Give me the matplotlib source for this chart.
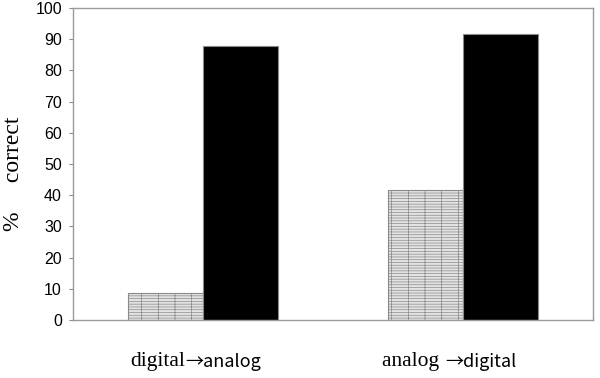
import numpy as np
import matplotlib
matplotlib.use("Agg")
import matplotlib.pyplot as plt

# data
conditions = ["digital→analog", "analog →digital"]
label_left = ["digital", "analog "]
label_right = ["→analog", "→digital"]
series_a = [8.7, 41.7]    # hatched gray bars
series_b = [87.7, 91.7]   # black bars
yticks = list(range(0, 101, 10))

plt.rcParams['hatch.color'] = '#cdcdcd'
plt.rcParams['hatch.linewidth'] = 0.5

fig = plt.figure(figsize=(6, 3.78), dpi=100)
ax = fig.add_axes([73 / 600, 1 - 320 / 378, 520 / 600, 312 / 378])

x = np.arange(len(conditions))
w = 0.29
ax.bar(x - w / 2, series_a, w, facecolor='#e3e3e3', edgecolor='#8a8a8a',
       linewidth=0.8, hatch='|------')
ax.bar(x + w / 2, series_b, w, facecolor='black', edgecolor='#8a8a8a',
       linewidth=0.8)

ax.set_xlim(-0.5, 1.5)
ax.set_ylim(0, 100)
ax.set_yticks(yticks)
ax.set_yticklabels([str(t) for t in yticks], family='Liberation Sans', fontsize=11.5)
ax.tick_params(axis='y', direction='out', length=3, color='#8a8a8a', pad=5)
ax.set_xticks([])
for s in ax.spines.values():
    s.set_color('#9a9a9a')
    s.set_linewidth(1.0)

# x labels: serif word, gothic-style arrow part (mixed fonts as in source)
for i in range(len(conditions)):
    ax.annotate(label_left[i], xy=(i, 0), xycoords=('data', 'axes fraction'),
                xytext=(-13, -30), textcoords='offset points',
                ha='right', va='center', fontsize=15.5,
                family='Liberation Serif')
    ax.annotate(label_right[i], xy=(i, 0), xycoords=('data', 'axes fraction'),
                xytext=(-13, -30), textcoords='offset points',
                ha='left', va='center', fontsize=13,
                family=['Noto Sans CJK JP', 'DejaVu Sans'])

ax.set_ylabel("%     correct", family='Liberation Serif', fontsize=17)
ax.yaxis.set_label_coords(-0.095, 0.47)

fig.savefig("out.png", dpi=100)
